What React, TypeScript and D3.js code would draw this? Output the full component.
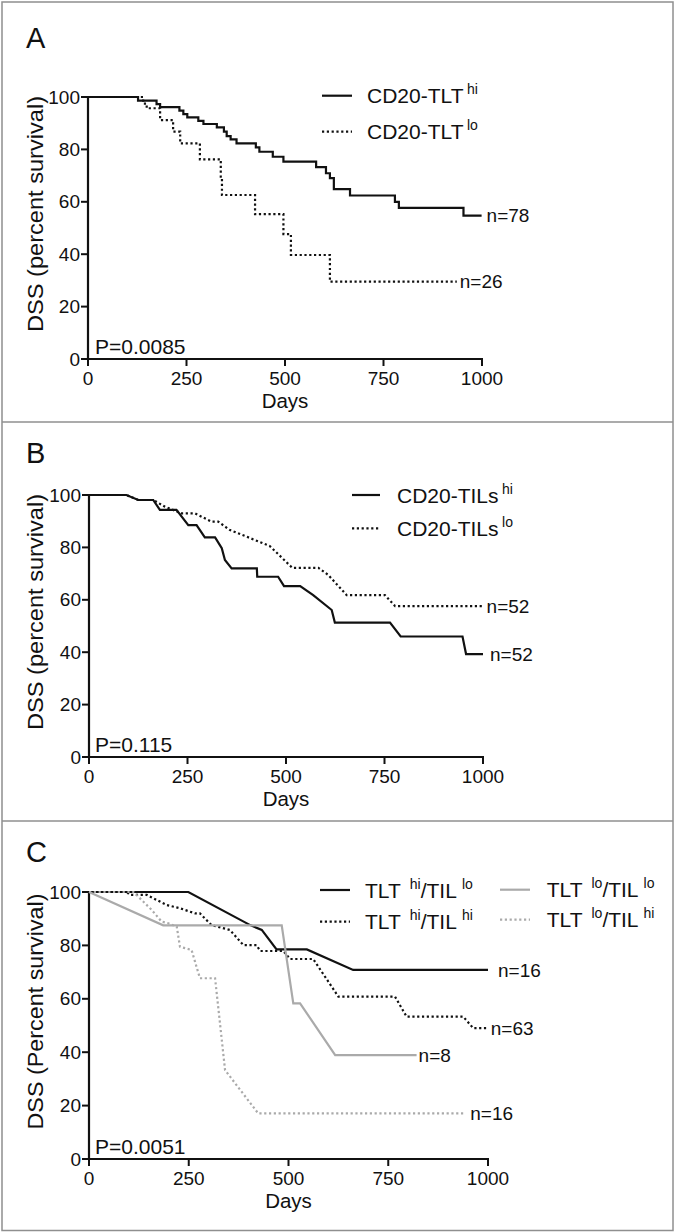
import React from "react";
import * as d3 from "d3";

const dayTicks = [0, 250, 500, 750, 1000];
const survTicks = [0, 20, 40, 60, 80, 100];

// panel A (CD20-TLT), step curves
const aHiDays = [0, 127, 174, 183, 232, 242, 252, 280, 293, 327, 345, 352, 362, 377, 426, 435, 469, 496, 579, 604, 614, 624, 665, 779, 789, 953, 999];
const aHiSurv = [100, 98.6, 97.3, 96.1, 94.8, 93.5, 92.2, 90.9, 89.7, 88.4, 86.8, 85.1, 83.8, 82.3, 80.8, 79.1, 77.2, 75.3, 73.2, 70.9, 69.0, 64.8, 62.4, 60.0, 57.7, 54.7, 54.7];
const aLoDays = [0, 140, 149, 183, 216, 234, 284, 337, 340, 424, 496, 515, 614, 936];
const aLoSurv = [100, 97.5, 95.7, 91.2, 86.8, 82.3, 76.2, 69.6, 62.6, 55.3, 47.7, 39.7, 29.5, 29.5];

// panel B (CD20-TILs), point to point
const bHiDays = [0, 95, 125, 163, 180, 222, 252, 273, 294, 320, 337, 345, 362, 426, 427, 480, 495, 536, 569, 616, 624, 764, 791, 948, 957, 1000];
const bHiSurv = [100, 100, 98.1, 98.1, 94.3, 94.3, 88.5, 88.5, 83.8, 83.8, 79.7, 75.2, 72.0, 72.0, 68.8, 68.8, 65.2, 65.2, 61.8, 56.1, 51.3, 51.3, 46.0, 46.0, 39.3, 39.3];
const bLoDays = [0, 95, 125, 163, 193, 235, 269, 311, 328, 358, 400, 459, 516, 582, 607, 654, 751, 777, 999];
const bLoSurv = [100, 100, 98.1, 98.1, 95.5, 93.0, 93.0, 89.8, 89.8, 86.6, 84.1, 80.5, 72.2, 72.2, 69.5, 61.8, 61.8, 57.6, 57.6];

// panel C (TLT/TIL combinations)
const cHiLoDays = [0, 249, 404, 433, 470, 546, 662, 1000];
const cHiLoSurv = [100, 100, 87.6, 85.8, 78.5, 78.5, 70.8, 70.8];
const cHiHiDays = [0, 95, 103, 145, 195, 228, 266, 278, 307, 353, 387, 420, 429, 487, 504, 562, 625, 767, 796, 938, 963, 997];
const cHiHiSurv = [100, 100, 98.9, 98.9, 95.1, 93.9, 92.0, 92.0, 87.6, 85.8, 80.1, 80.1, 77.9, 77.9, 74.9, 74.9, 60.8, 60.8, 53.3, 53.3, 49.0, 49.0];
const cLoLoDays = [0, 186, 483, 512, 529, 617, 821];
const cLoLoSurv = [100, 87.5, 87.5, 58.3, 58.3, 38.9, 38.9];
const cLoHiDays = [0, 111, 115, 157, 182, 199, 220, 228, 257, 278, 316, 341, 424, 938];
const cLoHiSurv = [100, 100, 99.5, 93.3, 88.9, 88.3, 87.0, 79.5, 78.3, 67.7, 67.7, 33.3, 17.1, 17.1];

const panelLetters = ["A", "B", "C"];
const pValues = ["P=0.0085", "P=0.115", "P=0.0051"];
const yTitles = ["DSS (percent survival)", "DSS (percent survival)", "DSS (Percent survival)"];
const xTitle = "Days";

const aLegend = [["CD20-TLT", "hi"], ["CD20-TLT", "lo"]];
const aCounts = ["n=78", "n=26"];
const bLegend = [["CD20-TILs", "hi"], ["CD20-TILs", "lo"]];
const bCounts = ["n=52", "n=52"];
const cLegend = [["TLT", "hi", "/TIL", "lo"], ["TLT", "hi", "/TIL", "hi"], ["TLT", "lo", "/TIL", "lo"], ["TLT", "lo", "/TIL", "hi"]];
const cCounts = ["n=16", "n=63", "n=8", "n=16"];

const BLACK = "#111";
const GRAY = "#aaaaaa";
const FONT = "'Liberation Sans', Arial, sans-serif";

const panels = [
  {
    top: 2, bottom: 422, x0: 88, x1: 482, yTop: 97, yBot: 359, step: true,
    series: [
      { days: aHiDays, surv: aHiSurv, color: BLACK, dotted: false, legend: aLegend[0], n: aCounts[0], gap: 5 },
      { days: aLoDays, surv: aLoSurv, color: BLACK, dotted: true, legend: aLegend[1], n: aCounts[1], gap: 3 },
    ],
    legendPos: [{ x: 322, y: 95.7, tx: 367 }, { x: 322, y: 131.7, tx: 367 }],
    lineLen: 30,
  },
  {
    top: 422, bottom: 821, x0: 89, x1: 483, yTop: 495, yBot: 757, step: false,
    series: [
      { days: bHiDays, surv: bHiSurv, color: BLACK, dotted: false, legend: bLegend[0], n: bCounts[0], gap: 7 },
      { days: bLoDays, surv: bLoSurv, color: BLACK, dotted: true, legend: bLegend[1], n: bCounts[1], gap: 4 },
    ],
    legendPos: [{ x: 352, y: 495, tx: 397 }, { x: 352, y: 528.3, tx: 397 }],
    lineLen: 28,
  },
  {
    top: 821, bottom: 1231, x0: 89, x1: 488, yTop: 892, yBot: 1159, step: false,
    series: [
      { days: cHiLoDays, surv: cHiLoSurv, color: BLACK, dotted: false, legend: cLegend[0], n: cCounts[0], gap: 10 },
      { days: cHiHiDays, surv: cHiHiSurv, color: BLACK, dotted: true, legend: cLegend[1], n: cCounts[1], gap: 4 },
      { days: cLoLoDays, surv: cLoLoSurv, color: GRAY, dotted: false, legend: cLegend[2], n: cCounts[2], gap: 2 },
      { days: cLoHiDays, surv: cLoHiSurv, color: GRAY, dotted: true, legend: cLegend[3], n: cCounts[3], gap: 7 },
    ],
    legendPos: [
      { x: 320, y: 890, tx: 365 },
      { x: 320, y: 921.7, tx: 365 },
      { x: 500, y: 889.7, tx: 546.7 },
      { x: 500, y: 919.7, tx: 546.7 },
    ],
    lineLen: 30,
  },
];

function LegendText({ parts, x, y }) {
  // main text with superscripts
  const gaps = [0, 9, 0, 5];
  return (
    <text x={x} y={y} fontSize={21} fill={BLACK}>
      {parts.map((p, i) =>
        i % 2 === 0 ? (
          <tspan key={i} dy={i === 0 ? 0 : 9}>{p}</tspan>
        ) : (
          <tspan key={i} dx={parts.length === 2 ? 3.5 : gaps[i]} dy={-9} fontSize={14}>{p}</tspan>
        )
      )}
    </text>
  );
}

function Panel({ cfg, idx }) {
  const xs = d3.scaleLinear().domain([0, 1000]).range([cfg.x0, cfg.x1]);
  const ys = d3.scaleLinear().domain([0, 100]).range([cfg.yBot, cfg.yTop]);
  const letterY = cfg.top + (idx === 0 ? 46 : 41);

  return (
    <g>
      <text x={26} y={letterY} fontSize={29} fill={BLACK}>{panelLetters[idx]}</text>

      {/* axes */}
      <line x1={cfg.x0} x2={cfg.x0} y1={cfg.yTop - 1} y2={cfg.yBot + 1} stroke={BLACK} strokeWidth={2.2} />
      <line x1={cfg.x0 - 1} x2={cfg.x1 + 1} y1={cfg.yBot} y2={cfg.yBot} stroke={BLACK} strokeWidth={2.2} />
      {survTicks.map((t) => (
        <g key={"y" + t}>
          <line x1={cfg.x0 - 7} x2={cfg.x0} y1={ys(t)} y2={ys(t)} stroke={BLACK} strokeWidth={2} />
          <text x={cfg.x0 - 8} y={ys(t)} dy="0.35em" textAnchor="end" fontSize={19} fill={BLACK}>{t}</text>
        </g>
      ))}
      {dayTicks.map((t) => (
        <g key={"x" + t}>
          <line x1={xs(t)} x2={xs(t)} y1={cfg.yBot} y2={cfg.yBot + 7} stroke={BLACK} strokeWidth={2} />
          <text x={xs(t)} y={cfg.yBot + 25.5} textAnchor="middle" fontSize={19} fill={BLACK}>{t}</text>
        </g>
      ))}
      <text x={(cfg.x0 + cfg.x1) / 2} y={cfg.yBot + 48.5} textAnchor="middle" fontSize={20.5} fill={BLACK}>{xTitle}</text>
      <text
        transform={`translate(43, ${(cfg.yTop + cfg.yBot) / 2 - 14}) rotate(-90)`}
        textAnchor="middle"
        fontSize={22}
        textLength={236}
        lengthAdjust="spacingAndGlyphs"
        fill={BLACK}
      >
        {yTitles[idx]}
      </text>
      <text x={95} y={cfg.yBot - 5} fontSize={21} fill={BLACK}>{pValues[idx]}</text>

      {/* curves */}
      {cfg.series.map((s, i) => {
        const path = d3
          .line<number>()
          .x((d) => xs(d))
          .y((_, j) => ys(s.surv[j]))
          .curve(cfg.step ? d3.curveStepAfter : d3.curveLinear)(s.days);
        const last = s.days.length - 1;
        return (
          <g key={i}>
            <path
              d={path}
              fill="none"
              stroke={s.color}
              strokeWidth={2.2}
              strokeDasharray={s.dotted ? "2.2 2.6" : undefined}
            />
            <text x={xs(s.days[last]) + s.gap} y={ys(s.surv[last])} dy="0.35em" fontSize={19} fill={BLACK}>{s.n}</text>
          </g>
        );
      })}

      {/* legend */}
      {cfg.series.map((s, i) => {
        const p = cfg.legendPos[i];
        return (
          <g key={"l" + i}>
            <line
              x1={p.x}
              x2={p.x + cfg.lineLen}
              y1={p.y}
              y2={p.y}
              stroke={s.color}
              strokeWidth={2.2}
              strokeDasharray={s.dotted ? "2.2 2.6" : undefined}
            />
            <LegendText parts={s.legend} x={p.tx} y={p.y + 7.5} />
          </g>
        );
      })}
    </g>
  );
}

export default function App() {
  return (
    <svg
      width={677}
      height={1232}
      style={{ position: "absolute", left: 0, top: 0, background: "#fff", fontFamily: FONT }}
    >
      <rect x={0} y={0} width={677} height={1232} fill="#fff" />
      {/* frame */}
      <rect x={2} y={2} width={671} height={1228.5} fill="none" stroke="#8f8f8f" strokeWidth={1.5} />
      <line x1={2} x2={673} y1={422} y2={422} stroke="#8f8f8f" strokeWidth={1.5} />
      <line x1={2} x2={673} y1={821} y2={821} stroke="#8f8f8f" strokeWidth={1.5} />
      {panels.map((cfg, i) => (
        <Panel key={i} cfg={cfg} idx={i} />
      ))}
    </svg>
  );
}
